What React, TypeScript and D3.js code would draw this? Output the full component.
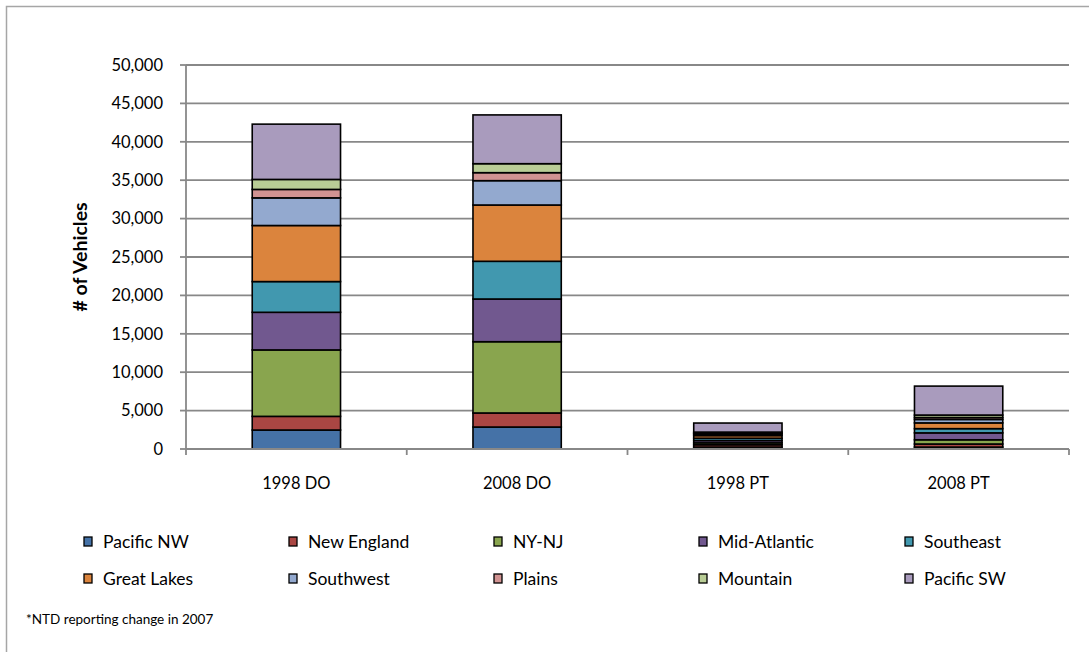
import React from "react";
import * as d3 from "d3";

const categories = ["1998 DO", "2008 DO", "1998 PT", "2008 PT"];
const seriesNames = ["Pacific NW", "New England", "NY-NJ", "Mid-Atlantic", "Southeast", "Great Lakes", "Southwest", "Plains", "Mountain", "Pacific SW"];
const seriesColors = ["#4572A7", "#AA4643", "#89A54E", "#71588F", "#4198AF", "#DB843D", "#93A9CF", "#D19392", "#B9CD96", "#A99BBD"];
const pacificNW = [2470, 2860, 250, 250];
const newEngland = [1780, 1830, 300, 400];
const nyNj = [8650, 9280, 250, 550];
const midAtlantic = [4900, 5560, 300, 900];
const southeast = [4000, 4910, 300, 550];
const greatLakes = [7300, 7330, 350, 750];
const southwest = [3600, 3170, 200, 450];
const plains = [1100, 1040, 100, 250];
const mountain = [1300, 1170, 150, 320];
const pacificSW = [7200, 6350, 1180, 3770];
const yTicks = [0, 5000, 10000, 15000, 20000, 25000, 30000, 35000, 40000, 45000, 50000];
const yTitle = "# of Vehicles";
const footnote = "*NTD reporting change in 2007";

const seriesValues = [pacificNW, newEngland, nyNj, midAtlantic, southeast, greatLakes, southwest, plains, mountain, pacificSW];

export default function App() {
  const W = 1089, H = 652;
  const left = 186, right = 1069, top = 65, bottom = 449;
  const font = "Lato, 'Open Sans', sans-serif";

  const rows = categories.map((c, i) => {
    const r: any = { cat: c };
    seriesNames.forEach((s, j) => (r[s] = seriesValues[j][i]));
    return r;
  });
  const stacked = d3.stack<any>().keys(seriesNames)(rows);

  const x = d3.scaleBand().domain(categories).range([left, right]).paddingInner(0.6).paddingOuter(0.3);
  const xOuter = d3.scaleBand().domain(categories).range([left, right]);
  const y = d3.scaleLinear().domain([0, 50000]).range([bottom, top]);
  const fmt = d3.format(",");

  const legendCols = [83, 288, 493, 698, 904];
  const legendRows = [542, 579];

  return (
    <svg width={W} height={H} style={{ position: "absolute", left: 0, top: 0, display: "block" }}>
      <rect x={0} y={0} width={W} height={H} fill="#fff" />
      <rect x={6.5} y={6.5} width={W + 20} height={H + 20} fill="none" stroke="#a6a6a6" strokeWidth={1.5} />
      {yTicks.map((t) => (
        <g key={t}>
          {t > 0 && <line x1={left} x2={right} y1={y(t)} y2={y(t)} stroke="#888" strokeWidth={1.8} />}
          <line x1={left - 6} x2={left} y1={y(t)} y2={y(t)} stroke="#888" strokeWidth={1.8} />
          <text x={left - 23} y={y(t)} dy="0.35em" textAnchor="end" fontFamily={font} fontSize={16.5} fill="#000">
            {fmt(t)}
          </text>
        </g>
      ))}
      {stacked.map((layer, j) => (
        <g key={layer.key}>
          {layer.map((d, i) => (
            <rect
              key={i}
              x={x(categories[i])!}
              width={x.bandwidth()}
              y={y(d[1])}
              height={Math.max(0, y(d[0]) - y(d[1]))}
              fill={seriesColors[j]}
              stroke="#000"
              strokeWidth={1.6}
            />
          ))}
        </g>
      ))}
      <line x1={left} x2={left} y1={top} y2={bottom} stroke="#888" strokeWidth={1.8} />
      <line x1={left} x2={right} y1={bottom} y2={bottom} stroke="#888" strokeWidth={1.8} />
      {categories.map((c, i) => (
        <g key={c}>
          <line x1={xOuter(c)!} x2={xOuter(c)!} y1={bottom} y2={bottom + 6} stroke="#888" strokeWidth={1.8} />
          {i === categories.length - 1 && (
            <line x1={right} x2={right} y1={bottom} y2={bottom + 6} stroke="#888" strokeWidth={1.8} />
          )}
          <text x={x(c)! + x.bandwidth() / 2} y={489} textAnchor="middle" fontFamily={font} fontSize={16.5} fill="#000">
            {c}
          </text>
        </g>
      ))}
      <text
        transform={`translate(87,${(top + bottom) / 2}) rotate(-90)`}
        textAnchor="middle"
        fontFamily={font}
        fontWeight="bold"
        fontSize={19.5}
        fill="#000"
      >
        {yTitle}
      </text>
      {seriesNames.map((s, j) => {
        const cx = legendCols[j % 5];
        const cy = legendRows[Math.floor(j / 5)];
        return (
          <g key={s}>
            <rect x={cx + 1} y={cy - 5} width={8} height={9} fill={seriesColors[j]} stroke="#000" strokeWidth={1.3} />
            <text x={cx + 20} y={cy} dy="0.35em" fontFamily={font} fontSize={17.5} fill="#000">
              {s}
            </text>
          </g>
        );
      })}
      <text x={26} y={624} fontFamily={font} fontSize={13.5} fill="#000">
        {footnote}
      </text>
    </svg>
  );
}
